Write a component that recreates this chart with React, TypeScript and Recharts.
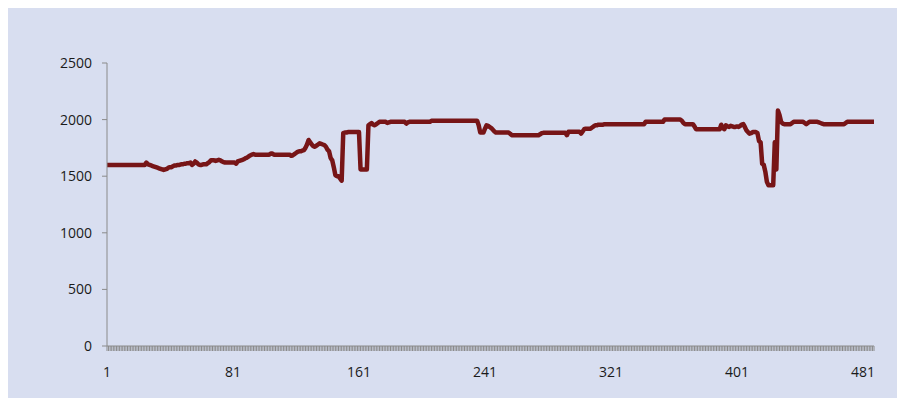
import { LineChart, Line, XAxis, YAxis } from 'recharts';

// readings, one per sample (1..488)
const VALUES: number[] = [
  1600, 1600, 1600, 1600, 1600, 1600, 1600, 1600, 1600, 1600,
  1600, 1600, 1600, 1600, 1600, 1600, 1600, 1600, 1600, 1600,
  1600, 1600, 1600, 1600, 1600, 1620, 1605, 1600, 1595, 1590,
  1585, 1580, 1575, 1570, 1565, 1560, 1555, 1560, 1565, 1575,
  1580, 1580, 1590, 1595, 1595, 1600, 1600, 1605, 1605, 1610,
  1610, 1615, 1615, 1620, 1600, 1610, 1630, 1620, 1605, 1600,
  1600, 1605, 1605, 1605, 1615, 1625, 1640, 1640, 1640, 1635,
  1640, 1645, 1640, 1630, 1625, 1620, 1620, 1620, 1620, 1620,
  1620, 1620, 1610, 1630, 1635, 1640, 1645, 1650, 1660, 1665,
  1675, 1685, 1690, 1695, 1690, 1690, 1690, 1690, 1690, 1690,
  1690, 1690, 1690, 1690, 1700, 1700, 1690, 1690, 1690, 1690,
  1690, 1690, 1690, 1690, 1690, 1690, 1690, 1680, 1685, 1695,
  1705, 1715, 1720, 1720, 1725, 1730, 1750, 1780, 1820, 1800,
  1780, 1765, 1760, 1770, 1780, 1790, 1785, 1780, 1775, 1760,
  1735, 1720, 1660, 1640, 1580, 1510, 1500, 1500, 1480, 1460,
  1880, 1885, 1885, 1890, 1890, 1890, 1890, 1890, 1890, 1890,
  1890, 1560, 1560, 1560, 1560, 1560, 1950, 1960, 1970, 1955,
  1950, 1960, 1970, 1980, 1980, 1980, 1980, 1980, 1970, 1975,
  1980, 1980, 1980, 1980, 1980, 1980, 1980, 1980, 1980, 1980,
  1965, 1975, 1980, 1980, 1980, 1980, 1980, 1980, 1980, 1980,
  1980, 1980, 1980, 1980, 1980, 1980, 1990, 1990, 1990, 1990,
  1990, 1990, 1990, 1990, 1990, 1990, 1990, 1990, 1990, 1990,
  1990, 1990, 1990, 1990, 1990, 1990, 1990, 1990, 1990, 1990,
  1990, 1990, 1990, 1990, 1990, 1990, 1950, 1885, 1885, 1885,
  1920, 1950, 1945, 1935, 1925, 1910, 1895, 1885, 1885, 1885,
  1885, 1885, 1885, 1885, 1885, 1885, 1875, 1862, 1862, 1862,
  1862, 1862, 1862, 1862, 1862, 1862, 1862, 1862, 1862, 1862,
  1862, 1862, 1862, 1862, 1862, 1870, 1880, 1883, 1883, 1883,
  1883, 1883, 1883, 1883, 1883, 1883, 1883, 1883, 1883, 1883,
  1883, 1883, 1862, 1892, 1892, 1892, 1892, 1892, 1892, 1892,
  1892, 1876, 1895, 1915, 1920, 1920, 1920, 1920, 1930, 1940,
  1950, 1950, 1955, 1955, 1955, 1955, 1960, 1960, 1960, 1960,
  1960, 1960, 1960, 1960, 1960, 1960, 1960, 1960, 1960, 1960,
  1960, 1960, 1960, 1960, 1960, 1960, 1960, 1960, 1960, 1960,
  1960, 1960, 1980, 1980, 1980, 1980, 1980, 1980, 1980, 1980,
  1980, 1980, 1980, 1980, 2000, 2000, 2000, 2000, 2000, 2000,
  2000, 2000, 2000, 2000, 2000, 1990, 1970, 1960, 1960, 1960,
  1960, 1960, 1960, 1940, 1915, 1915, 1915, 1915, 1915, 1915,
  1915, 1915, 1915, 1915, 1915, 1915, 1915, 1915, 1915, 1915,
  1955, 1925, 1915, 1950, 1940, 1935, 1945, 1940, 1935, 1935,
  1940, 1935, 1945, 1955, 1960, 1935, 1905, 1890, 1876, 1880,
  1890, 1890, 1890, 1880, 1810, 1800, 1610, 1600, 1540, 1450,
  1420, 1420, 1420, 1420, 1800, 1560, 2080, 2040, 1980, 1965,
  1960, 1960, 1960, 1960, 1960, 1970, 1980, 1980, 1980, 1980,
  1980, 1980, 1980, 1970, 1960, 1970, 1980, 1980, 1980, 1980,
  1980, 1980, 1975, 1970, 1965, 1960, 1960, 1960, 1960, 1960,
  1960, 1960, 1960, 1960, 1960, 1960, 1960, 1960, 1960, 1970,
  1980, 1980, 1980, 1980, 1980, 1980, 1980, 1980, 1980, 1980,
  1980, 1980, 1980, 1980, 1980, 1980, 1980, 1980,
];

const Y_TICKS = [0, 500, 1000, 1500, 2000, 2500];
const LABEL_EVERY = 80;

const data = VALUES.map((v, i) => ({ idx: String(i + 1), value: v }));

const AXIS_GREY = '#8a8a8a';
const tickStyle = { fill: '#1a1a1a', fontSize: 14, fontFamily: '"Open Sans", sans-serif' };

export default function App() {
  return (
    <div style={{ width: 889, height: 390, background: '#d8def0' }}>
      <LineChart
        width={889}
        height={390}
        data={data}
        margin={{ top: 55, right: 23, left: 39, bottom: 22 }}
      >
        <XAxis
          dataKey="idx"
          interval={0}
          height={30}
          tickSize={5}
          tickMargin={16}
          stroke={AXIS_GREY}
          tickLine={{ stroke: AXIS_GREY }}
          tick={tickStyle}
          tickFormatter={(v: string, i: number) => (i % LABEL_EVERY === 0 ? v : '')}
        />
        <YAxis
          domain={[0, 2500]}
          ticks={Y_TICKS}
          width={60}
          tickSize={5}
          tickMargin={10}
          stroke={AXIS_GREY}
          tickLine={{ stroke: AXIS_GREY }}
          tick={tickStyle}
        />
        <Line
          type="linear"
          dataKey="value"
          stroke="#771517"
          strokeWidth={4.5}
          strokeLinejoin="round"
          dot={false}
          isAnimationActive={false}
        />
      </LineChart>
    </div>
  );
}
